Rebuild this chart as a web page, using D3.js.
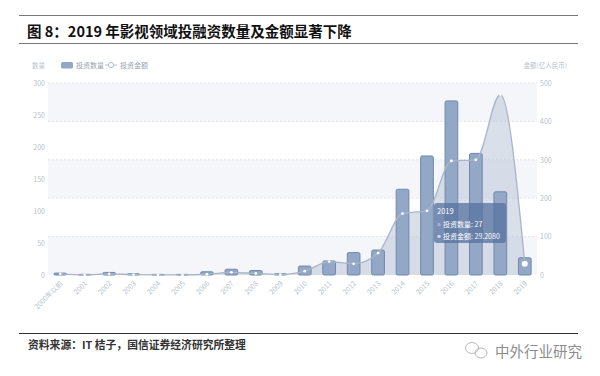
<!DOCTYPE html>
<html lang="zh">
<head>
<meta charset="UTF-8">
<title>2019 年影视领域投融资数量及金额显著下降</title>
<script src="https://d3js.org/d3.v7.min.js"></script>
<style>
  html, body { margin: 0; padding: 0; background: #fff; }
  svg { display: block; font-family: "Noto Sans CJK SC", "Noto Sans", sans-serif; }
</style>
</head>
<body>
<div id="chart"></div>
<script>
// data
const years = ["2000年以前", "2001", "2002", "2003", "2004", "2005", "2006", "2007", "2008", "2009",
               "2010", "2011", "2012", "2013", "2014", "2015", "2016", "2017", "2018", "2019"];
const dealCount = [3, 1, 4, 2, 1, 1, 5, 9, 7, 2, 14, 22, 35, 39, 134, 186, 272, 190, 130, 27];
const dealAmount = [3, 0.5, 3, 1, 0.5, 0.5, 2, 7, 4, 1, 10, 35, 29, 57, 160, 167, 297, 300, 470, 29.208];
const leftTicks = [0, 50, 100, 150, 200, 250, 300];
const rightTicks = [0, 100, 200, 300, 400, 500];
const hoverIndex = 19;

const width = 600, height = 376;
const plot = { left: 48, right: 537, top: 83, bottom: 275 };

const svg = d3.select("#chart").append("svg")
    .attr("width", width)
    .attr("height", height);

// title block
svg.append("line").attr("x1", 19).attr("x2", 578).attr("y1", 15.5).attr("y2", 15.5)
    .attr("stroke", "#777").attr("stroke-width", 1.2);
svg.append("line").attr("x1", 19).attr("x2", 578).attr("y1", 43.5).attr("y2", 43.5)
    .attr("stroke", "#777").attr("stroke-width", 1.2);
svg.append("text")
    .attr("x", 27).attr("y", 36.5)
    .attr("font-size", "14.5px").attr("font-weight", 700).attr("fill", "#111")
    .text("图 8：2019 年影视领域投融资数量及金额显著下降");

// scales
const x = d3.scaleBand().domain(years).range([plot.left, plot.right]).padding(0);
const yLeft = d3.scaleLinear().domain([0, 300]).range([plot.bottom, plot.top]);
const yRight = d3.scaleLinear().domain([0, 500]).range([plot.bottom, plot.top]);
const cx = d => x(d) + x.bandwidth() / 2;

// split area bands + dashed grid (right axis)
const g = svg.append("g");
rightTicks.slice(0, -1).forEach((t, i) => {
    if (i % 2 === 0) {
        g.append("rect")
            .attr("x", plot.left).attr("width", plot.right - plot.left)
            .attr("y", yRight(rightTicks[i + 1]))
            .attr("height", yRight(t) - yRight(rightTicks[i + 1]))
            .attr("fill", "#f4f6f9");
    }
});
g.selectAll("line.grid")
    .data(rightTicks.slice(1))
    .enter().append("line")
    .attr("x1", plot.left).attr("x2", plot.right)
    .attr("y1", d => yRight(d)).attr("y2", d => yRight(d))
    .attr("stroke", "#dfe4ec").attr("stroke-dasharray", "2,2");

// area under amount line
const area = d3.area()
    .x((d, i) => cx(years[i]))
    .y0(plot.bottom)
    .y1(d => yRight(d))
    .curve(d3.curveMonotoneX);
g.append("path")
    .datum(dealAmount)
    .attr("d", area)
    .attr("fill", "#bcc7d9")
    .attr("fill-opacity", 0.55);

// bars
const barW = x.bandwidth() * 0.52;
g.selectAll("rect.bar")
    .data(dealCount)
    .enter().append("rect")
    .attr("class", "bar")
    .attr("x", (d, i) => cx(years[i]) - barW / 2)
    .attr("width", barW)
    .attr("y", d => yLeft(d))
    .attr("height", d => plot.bottom - yLeft(d))
    .attr("rx", 1.5)
    .attr("fill", "#93a7c6")
    .attr("stroke", "#7189ae")
    .attr("stroke-width", 1);

// amount line
const line = d3.line()
    .x((d, i) => cx(years[i]))
    .y(d => yRight(d))
    .curve(d3.curveMonotoneX);
g.append("path")
    .datum(dealAmount)
    .attr("d", line)
    .attr("fill", "none")
    .attr("stroke", "#a9b5c8")
    .attr("stroke-width", 1.3);

g.selectAll("circle.pt")
    .data(dealAmount)
    .enter().append("circle")
    .attr("cx", (d, i) => cx(years[i]))
    .attr("cy", d => yRight(d))
    .attr("r", (d, i) => i === hoverIndex ? 3.8 : 1.4)
    .attr("fill", "#fff")
    .attr("stroke", (d, i) => i === hoverIndex ? "#93a7c6" : "none")
    .attr("stroke-width", 1.5);

// axes
const axisColor = "#b8bfca";
const leftAxis = svg.append("g")
    .attr("transform", `translate(${plot.left - 3},0)`)
    .call(d3.axisLeft(yLeft).tickValues(leftTicks).tickSize(0).tickPadding(0));
const rightAxis = svg.append("g")
    .attr("transform", `translate(${plot.right + 3},0)`)
    .call(d3.axisRight(yRight).tickValues(rightTicks).tickSize(0).tickPadding(0));
const xAxis = svg.append("g")
    .attr("transform", `translate(0,${plot.bottom})`)
    .call(d3.axisBottom(x).tickSize(0).tickPadding(0));
[leftAxis, rightAxis, xAxis].forEach(a => {
    a.select(".domain").remove();
    a.selectAll("text").attr("fill", axisColor).attr("font-size", "7px")
        .attr("font-family", "'Noto Sans CJK SC', sans-serif");
});
xAxis.selectAll("text")
    .attr("text-anchor", "end")
    .attr("dy", 0)
    .attr("transform", "translate(3,9) rotate(-45)");

svg.append("text").attr("x", 45).attr("y", 67.5).attr("text-anchor", "end")
    .attr("font-size", "6.5px").attr("fill", axisColor).text("数量");
svg.append("text").attr("x", 567).attr("y", 67.5).attr("text-anchor", "end")
    .attr("font-size", "6.5px").attr("fill", axisColor).text("金额(亿人民币)");

// legend
const legend = svg.append("g").attr("font-size", "7px").attr("fill", "#9aa3b0");
legend.append("rect").attr("x", 61).attr("y", 62).attr("width", 12).attr("height", 6.5)
    .attr("rx", 1.5).attr("fill", "#93a7c6");
legend.append("text").attr("x", 76).attr("y", 67.5).text("投资数量");
legend.append("line").attr("x1", 105).attr("x2", 117).attr("y1", 65).attr("y2", 65)
    .attr("stroke", "#b5bfcf").attr("stroke-width", 1);
legend.append("circle").attr("cx", 111).attr("cy", 65).attr("r", 2.6)
    .attr("fill", "#fff").attr("stroke", "#b5bfcf");
legend.append("text").attr("x", 120).attr("y", 67.5).text("投资金额");

// tooltip for hovered year
const tip = svg.append("g").attr("transform", "translate(434,203)");
tip.append("rect").attr("width", 72).attr("height", 40).attr("rx", 3)
    .attr("fill", "#55729f").attr("fill-opacity", 0.75);
const tipText = tip.append("g").attr("fill", "#fff").attr("font-size", "7px");
tipText.append("text").attr("x", 3).attr("y", 11).attr("font-size", "7.5px").text(years[hoverIndex]);
[["投资数量", dealCount[hoverIndex]], ["投资金额", dealAmount[hoverIndex].toFixed(4)]].forEach((r, i) => {
    tip.append("circle").attr("cx", 5).attr("cy", 21.5 + i * 12).attr("r", 1.8)
        .attr("fill", i === 0 ? "#9fb1cc" : "#c9d2df");
    tipText.append("text").attr("x", 9).attr("y", 24 + i * 12).text(`${r[0]}: ${r[1]}`);
});

// footer
svg.append("line").attr("x1", 19).attr("x2", 578).attr("y1", 333.5).attr("y2", 333.5)
    .attr("stroke", "#333").attr("stroke-width", 1);
svg.append("text")
    .attr("x", 28).attr("y", 349)
    .attr("font-size", "10.8px").attr("font-weight", 700).attr("fill", "#333")
    .text("资料来源：IT 桔子，国信证券经济研究所整理");

// watermark
const wm = svg.append("g").attr("fill", "none").attr("stroke", "#b0b0b0").attr("stroke-width", 0.9);
wm.append("ellipse").attr("cx", 472).attr("cy", 348).attr("rx", 6.5).attr("ry", 5.5);
wm.append("ellipse").attr("cx", 481).attr("cy", 353).attr("rx", 6).attr("ry", 5);
svg.append("text")
    .attr("x", 495).attr("y", 357)
    .attr("font-size", "14.5px").attr("fill", "#8c8c8c")
    .text("中外行业研究");
</script>
</body>
</html>
